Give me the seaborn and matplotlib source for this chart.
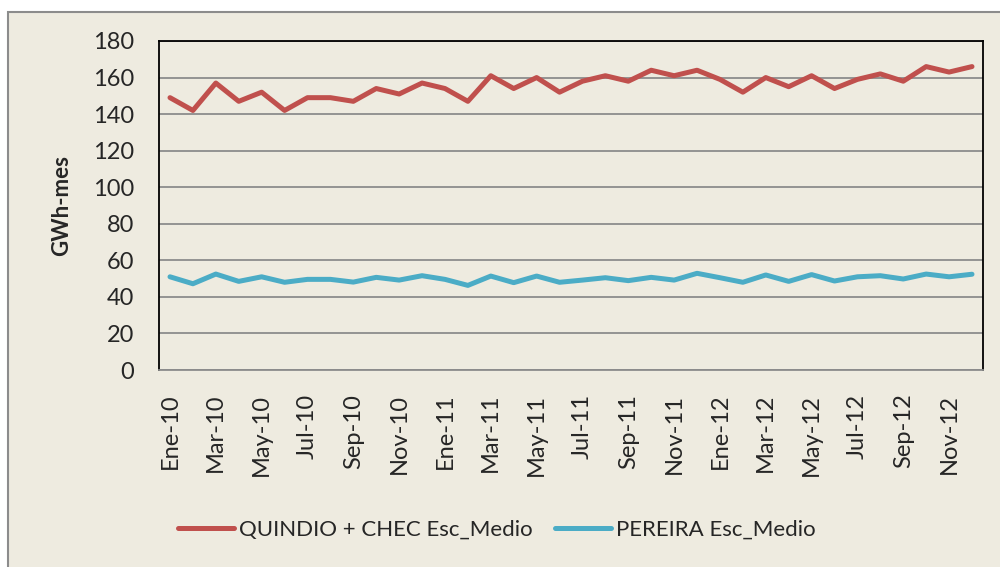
import pandas as pd
import matplotlib.pyplot as plt
import matplotlib.patches as mpatches
import seaborn as sns

# Monthly energy demand, Jan 2010 - Dec 2012 (GWh-mes)
months = ["Ene", "Feb", "Mar", "Abr", "May", "Jun", "Jul", "Ago", "Sep", "Oct", "Nov", "Dic"]
years = ["10", "11", "12"]
labels = [f"{m}-{y}" for y in years for m in months]

quindio_chec = [149, 142, 157, 147, 152, 142, 149, 149, 147, 154, 151, 157,
                154, 147, 161, 154, 160, 152, 158, 161, 158, 164, 161, 164,
                159, 152, 160, 155, 161, 154, 159, 162, 158, 166, 163, 166]
pereira = [51, 47.2, 52.5, 48.5, 51, 48, 49.6, 49.6, 48.1, 50.7, 49.2, 51.6,
           49.6, 46.3, 51.4, 47.8, 51.4, 48, 49.2, 50.5, 48.9, 50.7, 49.2, 52.9,
           50.5, 48, 52, 48.5, 52.2, 48.7, 51, 51.6, 49.8, 52.5, 51, 52.4]

series_names = ["QUINDIO + CHEC Esc_Medio", "PEREIRA Esc_Medio"]
colors = ["#C0504D", "#4BACC6"]

df = pd.DataFrame({
    "idx": list(range(len(labels))) * 2,
    "value": quindio_chec + pereira,
    "serie": [series_names[0]] * len(labels) + [series_names[1]] * len(labels),
})

sns.set_style("white")
plt.rcParams['font.family'] = ['Lato', 'DejaVu Sans']
bg = "#EEEBE0"

fig = plt.figure(figsize=(10, 5.67), dpi=100)
fig.patch.set_facecolor("white")
# chart area frame (beige panel with grey border), drawn behind the axes
frame = mpatches.Rectangle((0.008, -0.01), 1.0, 1 - 12 / 567 + 0.01,
                           transform=fig.transFigure, facecolor=bg,
                           edgecolor="#8C8C8C", linewidth=1.5, zorder=-10)
fig.patches.append(frame)

ax = fig.add_axes([0.159, 0.3474, 0.824, 0.5803])
ax.set_facecolor(bg)

sns.lineplot(data=df, x="idx", y="value", hue="serie", palette=colors,
             linewidth=3.6, ax=ax, legend=False, solid_capstyle="round")

ax.set_ylim(0, 180)
ax.set_yticks(range(0, 181, 20))
ax.set_xlim(-0.48, 35.48)
ax.set_xticks(range(0, 36, 2))
ax.set_xticklabels(labels[::2], rotation=90)
ax.tick_params(axis="both", labelsize=17, length=0)
ax.tick_params(axis="y", pad=18)
ax.tick_params(axis="x", pad=17)
ax.yaxis.grid(True, color="#8C8C8C", linewidth=1.3)
ax.set_axisbelow(True)
ax.set_xlabel("")
ax.set_ylabel("GWh-mes", fontsize=16, fontweight="bold", labelpad=15)
for s in ax.spines.values():
    s.set_color("black")
    s.set_linewidth(1.3)
ax.spines["bottom"].set_color("#8C8C8C")

handles = [plt.Line2D([], [], color=c, linewidth=3.6, solid_capstyle="round") for c in colors]
fig.legend(handles, series_names, loc="center", bbox_to_anchor=(0.497, 0.065),
           ncol=2, frameon=False, fontsize=16, handlelength=2.5, handletextpad=0.25,
           columnspacing=1.0)

plt.savefig("out.png", dpi=100, facecolor=fig.get_facecolor())
